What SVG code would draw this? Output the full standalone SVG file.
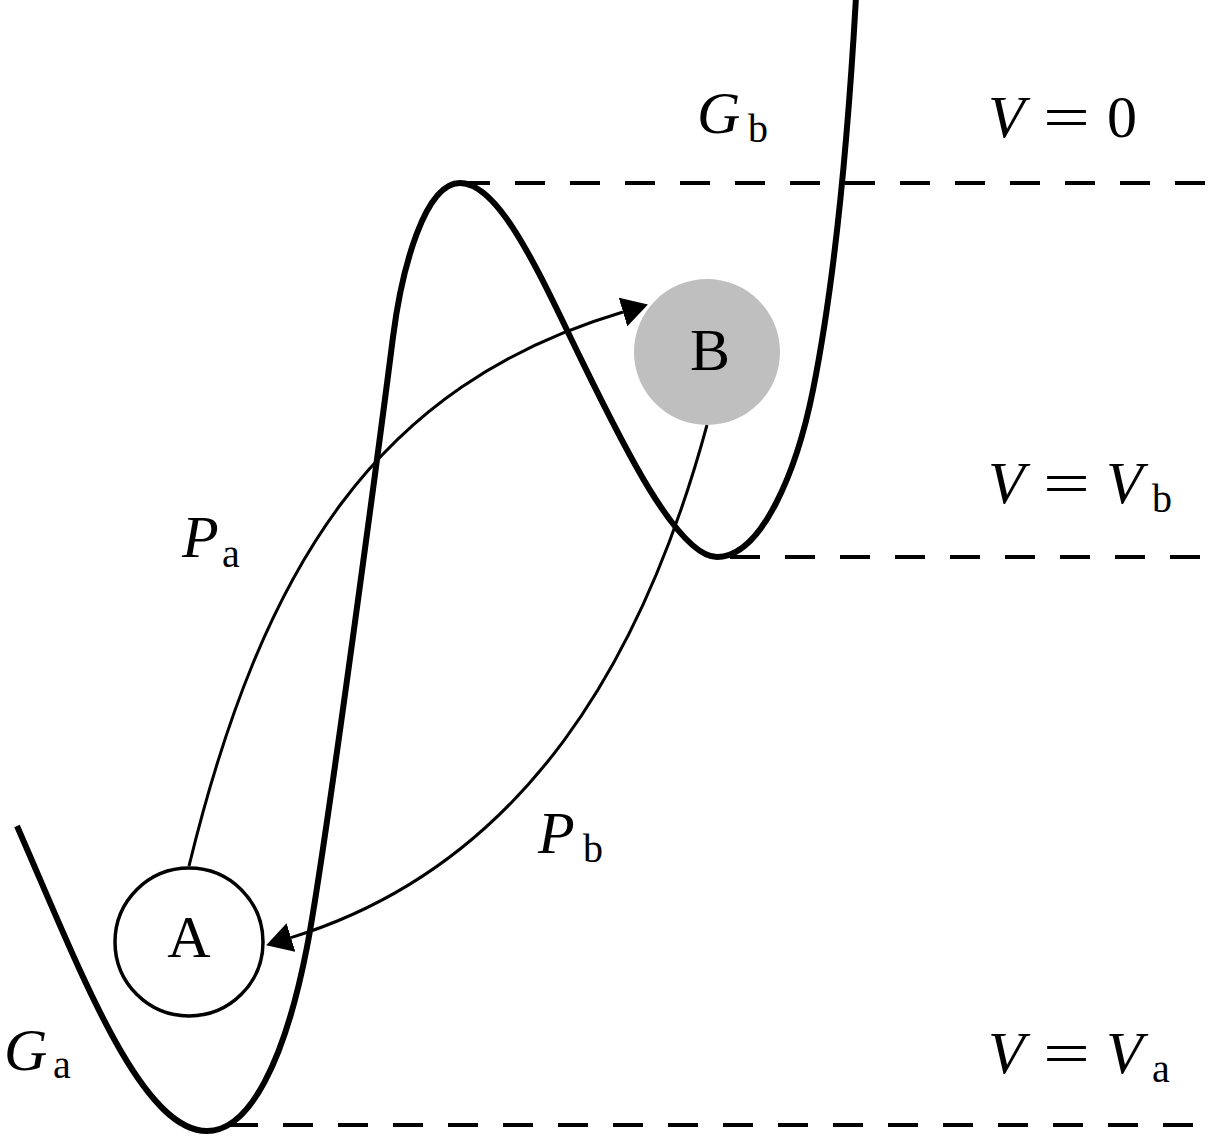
<svg xmlns="http://www.w3.org/2000/svg" width="1215" height="1137" viewBox="0 0 1215 1137">
<style>
.dash{fill:none;stroke:#000;stroke-width:4;stroke-dasharray:30 25}
.curve{fill:none;stroke:#000;stroke-width:6;stroke-linejoin:round}
.conn{fill:none;stroke:#000;stroke-width:3}
text{font-family:"Liberation Serif","DejaVu Serif",serif;font-size:60px;fill:#000}
.it{font-style:italic}
.sub{font-size:40px}
</style>
<defs>
<marker id="arr" markerUnits="userSpaceOnUse" markerWidth="26" markerHeight="30" viewBox="0 0 26 30" refX="0" refY="15" orient="auto">
<path d="M0,0 L26,15 L0,30 Z" fill="#000"/>
</marker>
</defs>
<g id="levels">
<path class="dash" d="M460,183 H1205"/>
<path class="dash" d="M730,557 H1200"/>
<path class="dash" d="M228,1125 H1193"/>
</g>
<g id="potential">
<path class="curve" d="M17,826 C80,970 140,1131 207,1131 C250,1131 285,1060 307,947 C325,855 385,400 393,337 C402,267 425,183 460,183 C500,183 540,275 580,357 C620,439 677,557 717,557 C762,557 797,470 813,390 C837,270 848.5,130 856,-3"/>
</g>
<g id="connectors">
<path class="conn" d="M189,866 C262.5,565 377,385 623,312" marker-end="url(#arr)"/>
<path class="conn" d="M707,425 C644.5,655 527,865 291,937.6" marker-end="url(#arr)"/>
</g>
<g id="node-A">
<circle cx="189" cy="942" r="74" fill="#fff" stroke="#000" stroke-width="3.5"/>
<text x="189" y="957" text-anchor="middle">A</text>
</g>
<g id="node-B">
<circle cx="707" cy="352" r="73" fill="#bfbfbf"/>
<text x="710" y="370" text-anchor="middle">B</text>
</g>
<g id="labels">
<text y="133"><tspan class="it" x="697">G</tspan><tspan class="sub" x="748" y="142">b</tspan></text>
<text y="1070"><tspan class="it" x="4">G</tspan><tspan class="sub" x="53" y="1078">a</tspan></text>
<text y="557"><tspan class="it" x="182">P</tspan><tspan class="sub" x="222" y="567">a</tspan></text>
<text y="853"><tspan class="it" x="538">P</tspan><tspan class="sub" x="583" y="862">b</tspan></text>
<text y="137"><tspan class="it" x="988">V</tspan><tspan x="1043" textLength="47" lengthAdjust="spacingAndGlyphs">=</tspan><tspan x="1107">0</tspan></text>
<text y="503"><tspan class="it" x="988">V</tspan><tspan x="1043" textLength="47" lengthAdjust="spacingAndGlyphs">=</tspan><tspan class="it" x="1106">V</tspan><tspan class="sub" x="1152" y="512">b</tspan></text>
<text y="1073"><tspan class="it" x="988">V</tspan><tspan x="1043" textLength="47" lengthAdjust="spacingAndGlyphs">=</tspan><tspan class="it" x="1106">V</tspan><tspan class="sub" x="1152" y="1082">a</tspan></text>
</g>
</svg>
